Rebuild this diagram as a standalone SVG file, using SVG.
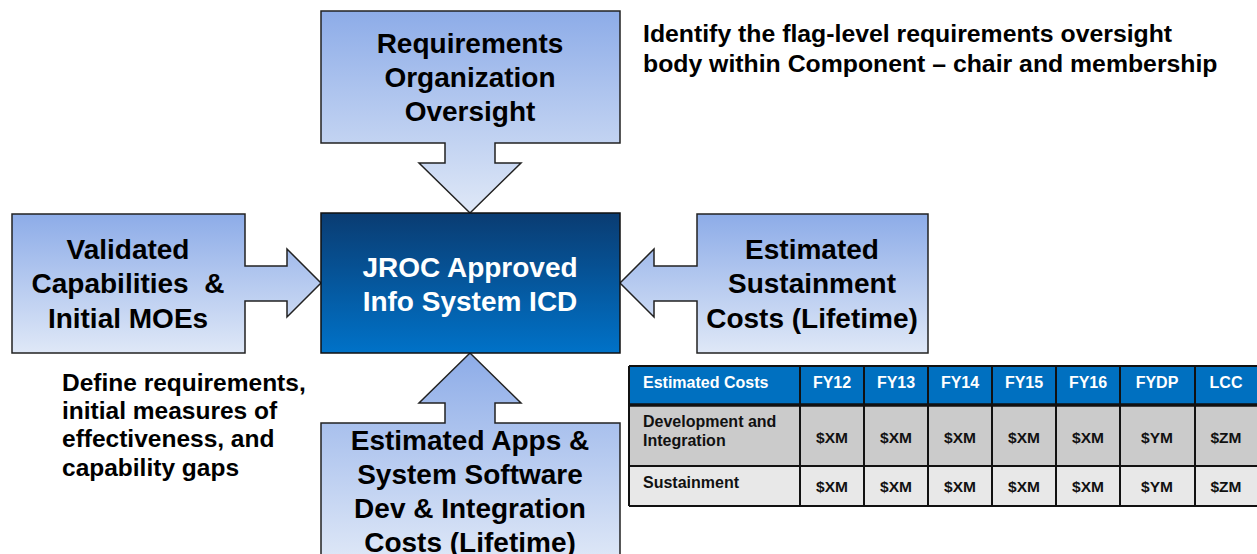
<svg xmlns="http://www.w3.org/2000/svg" width="1257" height="554" viewBox="0 0 1257 554">
<defs>
<linearGradient id="gCall" x1="0" y1="0" x2="0" y2="1">
<stop offset="0" stop-color="#8DACE8"/>
<stop offset="1" stop-color="#DFE8F7"/>
</linearGradient>
<linearGradient id="gCenter" x1="0" y1="0" x2="0" y2="1">
<stop offset="0" stop-color="#0A3C72"/>
<stop offset="1" stop-color="#0072C8"/>
</linearGradient>
</defs>
<style>
.call{fill:url(#gCall);stroke:#222;stroke-width:1.5;stroke-linejoin:miter}
.lbl{font-family:"Liberation Sans",Arial,sans-serif;font-weight:bold;font-size:28px;text-anchor:middle;fill:#000}
.wl{fill:#fff}
.note{font-family:"Liberation Sans",Arial,sans-serif;font-weight:bold;font-size:24.8px;fill:#000}
.note2{font-size:24.5px}
.th{font-family:"Liberation Sans",Arial,sans-serif;font-weight:bold;font-size:16px;fill:#fff;text-anchor:middle}
.td{font-family:"Liberation Sans",Arial,sans-serif;font-weight:bold;font-size:15.5px;fill:#111;text-anchor:middle}
.tdl{text-anchor:start;font-size:16px}
.grid{stroke:#111;stroke-width:2;fill:none}
</style>
<rect width="1257" height="554" fill="#fff"/>
<g id="connectors"></g>
<g id="top-node">
<path class="call" d="M321,11 H620 V143 H495 V163 H521 L470,213 L419,163 H445 V143 H321 Z"/>
<text class="lbl" x="470" y="53">Requirements</text>
<text class="lbl" x="470" y="87">Organization</text>
<text class="lbl" x="470" y="121">Oversight</text>
</g>
<g id="left-node">
<path class="call" d="M12,214 H245 V266 H287 V249 L321,283 L287,317 V301 H245 V353 H12 Z"/>
<text class="lbl" x="128" y="259">Validated</text>
<text class="lbl" x="128" y="293" xml:space="preserve">Capabilities  &amp;</text>
<text class="lbl" x="128" y="328">Initial MOEs</text>
</g>
<g id="right-node">
<path class="call" d="M928,214 V353 H697 V301 H654 V317 L620,283 L654,249 V266 H697 V214 Z"/>
<text class="lbl" x="812" y="259">Estimated</text>
<text class="lbl" x="812" y="293">Sustainment</text>
<text class="lbl" x="812" y="328">Costs (Lifetime)</text>
</g>
<g id="bottom-node">
<path class="call" d="M470,353 L521,403 H495 V423 H620 V562 H321 V423 H445 V403 H419 Z"/>
<text class="lbl" x="470" y="450">Estimated Apps &amp;</text>
<text class="lbl" x="470" y="484">System Software</text>
<text class="lbl" x="470" y="518">Dev &amp; Integration</text>
<text class="lbl" x="470" y="552">Costs (Lifetime)</text>
</g>
<g id="center-node">
<rect x="321" y="213" width="299" height="140" fill="url(#gCenter)" stroke="#111" stroke-width="1.5"/>
<text class="lbl wl" x="470" y="277">JROC Approved</text>
<text class="lbl wl" x="470" y="311">Info System ICD</text>
</g>
<g id="note-top">
<text class="note" x="643" y="42">Identify the flag-level requirements oversight</text>
<text class="note" x="643" y="72">body within Component – chair and membership</text>
</g>
<g id="note-left">
<text class="note note2" x="62" y="391">Define requirements,</text>
<text class="note note2" x="62" y="419">initial measures of</text>
<text class="note note2" x="62" y="447">effectiveness, and</text>
<text class="note note2" x="62" y="476">capability gaps</text>
</g>
<g id="cost-table">
<rect x="629" y="366" width="630" height="39" fill="#0070C0"/>
<rect x="629" y="405" width="630" height="61" fill="#CBCBCB"/>
<rect x="629" y="466" width="630" height="40" fill="#E8E8E8"/>
<path class="grid" d="M629,366 H1259 M629,466 H1259 M629,506 H1259 M629,366 V506 M800,366 V506 M864,366 V506 M928,366 V506 M992,366 V506 M1056,366 V506 M1120,366 V506 M1195,366 V506"/>
<path d="M629,405 H1259" stroke="#111" stroke-width="3.5"/>
<text class="th" x="643" y="388" style="text-anchor:start">Estimated Costs</text>
<text class="th" x="832" y="388">FY12</text>
<text class="th" x="896" y="388">FY13</text>
<text class="th" x="960" y="388">FY14</text>
<text class="th" x="1024" y="388">FY15</text>
<text class="th" x="1088" y="388">FY16</text>
<text class="th" x="1157" y="388">FYDP</text>
<text class="th" x="1226" y="388">LCC</text>
<text class="td tdl" x="643" y="427">Development and</text>
<text class="td tdl" x="643" y="446">Integration</text>
<text class="td" x="832" y="443">$XM</text>
<text class="td" x="896" y="443">$XM</text>
<text class="td" x="960" y="443">$XM</text>
<text class="td" x="1024" y="443">$XM</text>
<text class="td" x="1088" y="443">$XM</text>
<text class="td" x="1157" y="443">$YM</text>
<text class="td" x="1226" y="443">$ZM</text>
<text class="td tdl" x="643" y="488">Sustainment</text>
<text class="td" x="832" y="492">$XM</text>
<text class="td" x="896" y="492">$XM</text>
<text class="td" x="960" y="492">$XM</text>
<text class="td" x="1024" y="492">$XM</text>
<text class="td" x="1088" y="492">$XM</text>
<text class="td" x="1157" y="492">$YM</text>
<text class="td" x="1226" y="492">$ZM</text>
</g>
</svg>
